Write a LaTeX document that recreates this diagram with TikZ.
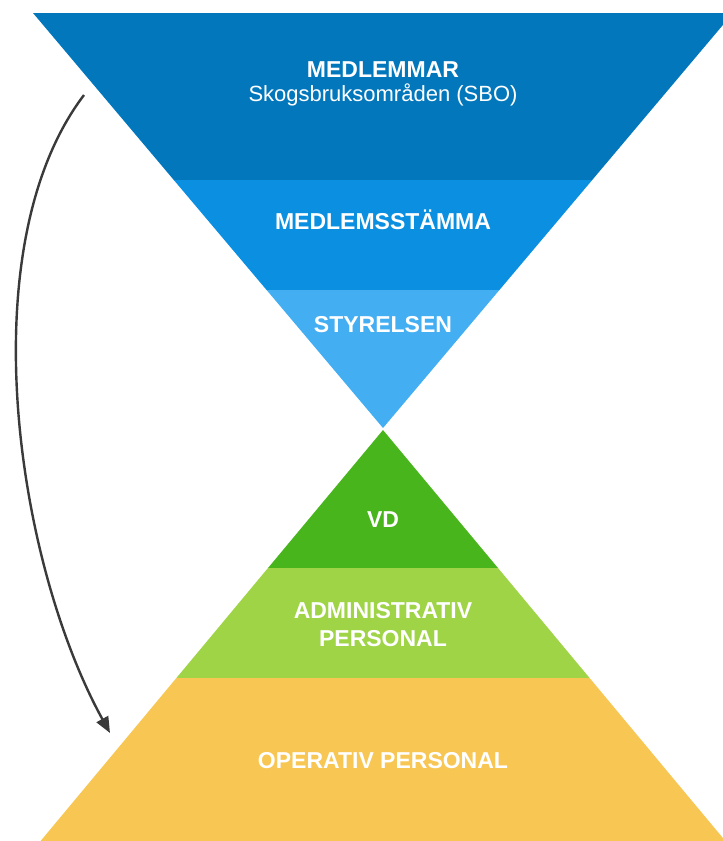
\documentclass[tikz,border=0pt]{standalone}
\usepackage{fontspec}
\setmainfont{Liberation Sans}
\usetikzlibrary{arrows.meta}
\definecolor{cA}{HTML}{0277BC}
\definecolor{cB}{HTML}{0B8FE0}
\definecolor{cC}{HTML}{44AEF3}
\definecolor{cD}{HTML}{47B51B}
\definecolor{cE}{HTML}{9ED445}
\definecolor{cF}{HTML}{F8C653}
\definecolor{arr}{HTML}{3A3A3A}
\tikzset{
  lbl/.style={text=white, font=\bfseries\fontsize{23}{28}\selectfont, inner sep=0pt, anchor=base, align=center},
  sublbl/.style={text=white, font=\fontsize{22}{26}\selectfont, inner sep=0pt, anchor=base},
  flow/.style={draw=arr, line width=2.4pt, -{Triangle[length=16pt,width=13pt]}}
}
\begin{document}
\begin{tikzpicture}[x=1pt,y=-1pt]
\useasboundingbox (0,0) rectangle (723,841);
\clip (0,0) rectangle (723,841);
% top inverted triangle bands
\fill[cA] (33,13) -- (733,13) -- (592.2,180) -- (173.8,180) -- cycle;
\fill[cB] (173.8,180) -- (592.2,180) -- (499.4,290) -- (266.6,290) -- cycle;
\fill[cC] (266.6,290) -- (499.4,290) -- (383,428) -- cycle;
% bottom pyramid bands
\fill[cD] (383,430) -- (498,568) -- (268,568) -- cycle;
\fill[cE] (268,568) -- (498,568) -- (589.6,678) -- (176.4,678) -- cycle;
\fill[cF] (176.4,678) -- (589.6,678) -- (725.4,841) -- (40.6,841) -- cycle;
% labels
\node[lbl] (medlemmar) at (383,77) {MEDLEMMAR};
\node[sublbl] (sbo) at (383,101) {Skogsbruksområden (SBO)};
\node[lbl] (stamma) at (383,229) {MEDLEMSSTÄMMA};
\node[lbl] (styrelsen) at (383,332.5) {STYRELSEN};
\node[lbl] (vd) at (383,527) {VD};
\node[lbl] (admin) at (383,646) {ADMINISTRATIV\\PERSONAL};
\node[lbl] (oper) at (383,768) {OPERATIV PERSONAL};
% arrow
\coordinate (arrowstart) at (84,95);
\coordinate (arrowend) at (110,733);
\draw[flow] (arrowstart) .. controls (-30,245) and (15,560) .. (arrowend);
\end{tikzpicture}
\end{document}
